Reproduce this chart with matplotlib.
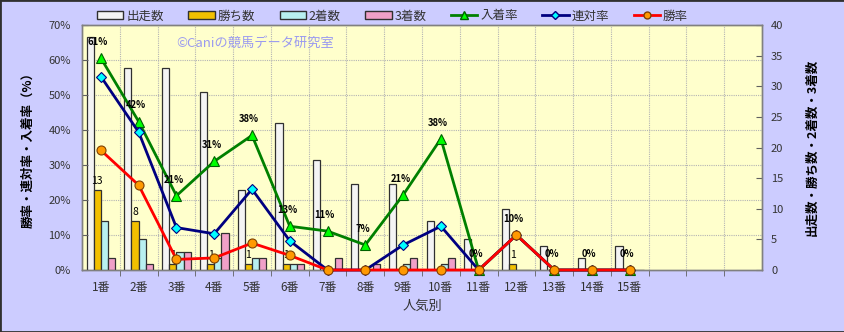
import numpy as np
import matplotlib
matplotlib.use("Agg")
import matplotlib.pyplot as plt
from matplotlib.patches import Patch, Rectangle
from matplotlib.lines import Line2D

plt.rcParams['font.family'] = ['Noto Sans CJK JP', 'DejaVu Sans']

# ---- data ----
categories = ['1番', '2番', '3番', '4番', '5番', '6番', '7番', '8番', '9番',
              '10番', '11番', '12番', '13番', '14番', '15番', '', '', '']
starts = [38, 33, 33, 29, 13, 24, 18, 14, 14, 8, 5, 10, 4, 2, 4]
wins = [13, 8, 1, 1, 1, 1, 0, 0, 0, 0, 0, 1, 0, 0, 0]
seconds = [8, 5, 3, 2, 2, 1, 0, 0, 1, 1, 0, 0, 0, 0, 0]
thirds = [2, 1, 3, 6, 2, 1, 2, 1, 2, 2, 0, 0, 0, 0, 0]

starts_a = np.array(starts, dtype=float)
win_rate = np.array(wins) / starts_a * 100
rentai_rate = (np.array(wins) + np.array(seconds)) / starts_a * 100
place_rate = (np.array(wins) + np.array(seconds) + np.array(thirds)) / starts_a * 100

TXT = '#333333'
fig = plt.figure(figsize=(8.45, 3.32), dpi=100, facecolor='#CCCCFF')
ax = fig.add_axes([82 / 845, 1 - 270 / 332, 680 / 845, 245 / 332])  # counts (bars)
ax.set_facecolor('#FFFFCC')
ax2 = ax.twinx()  # rates (lines), drawn above the bars

x_all = np.arange(len(categories))
x = np.arange(len(starts))
w = 0.19

# bars
bar_specs = [(starts, '#F4F4F4', '#303030', -1.5),
             (wins, '#F2C000', '#303030', -0.5),
             (seconds, '#B8F0F0', '#303030', 0.5),
             (thirds, '#F0A0C8', '#303030', 1.5)]
for vals, fc, ec, k in bar_specs:
    ax.bar(x + k * w, vals, width=w, color=fc, edgecolor=ec, linewidth=0.9, zorder=3)

for i, v in enumerate(wins):
    if v > 0:
        ax.annotate(str(v), (x[i] - 0.5 * w, v), xytext=(0, 3), textcoords='offset points',
                    ha='center', va='bottom', fontsize=7.5, color='black', zorder=4)

ax.set_xlim(-0.5, len(categories) - 0.5)
ax.set_ylim(0, 40)
ax2.set_ylim(0, 70)

# lines
mark_place = [i for i in range(len(starts)) if i != 11]
ax2.plot(x, place_rate, color='#008000', lw=2, marker='^', ms=7.5,
         mfc='#00FF00', mec='#006000', mew=0.8, markevery=mark_place, clip_on=False, zorder=5)
ax2.plot(x, rentai_rate, color='#000080', lw=2, marker='D', ms=5,
         mfc='#00FFFF', mec='#000080', mew=0.8, clip_on=False, zorder=6)
ax2.plot(x, win_rate, color='#FF0000', lw=2, marker='o', ms=6.5,
         mfc='#FF9900', mec='#804000', mew=0.8, clip_on=False, zorder=7)

for i, v in enumerate(place_rate):
    ax2.annotate(f'{int(v + 0.5)}%', (x[i], v), xytext=(-2, 8), textcoords='offset points',
                 ha='center', va='bottom', fontsize=6.8, fontweight='bold', color='black', zorder=8)

# axes placement: counts on right, rates on left
ax.yaxis.tick_right()
ax.yaxis.set_label_position('right')
ax2.yaxis.tick_left()
ax2.yaxis.set_label_position('left')

ax.set_yticks(np.arange(0, 41, 5))
ax.set_yticks([40 * k / 7 for k in range(1, 7)], minor=True)
ax.set_xticks(x_all)
ax.set_xticklabels(categories)
ax.set_xticks(np.arange(0.5, len(categories) - 1, 1), minor=True)
ax.grid(which='minor', color='#B4B4B4', linestyle=(0, (1, 1)), linewidth=0.8, zorder=0)
ax.set_axisbelow(True)

ax.tick_params(axis='x', which='major', length=0, pad=8, labelsize=8.5, labelcolor=TXT)
ax.tick_params(axis='x', which='minor', length=4, direction='out', color='#606060')
ax.tick_params(axis='y', which='major', direction='in', length=4, pad=6.5, labelsize=8, labelcolor=TXT, color='#606060')
ax.tick_params(axis='y', which='minor', length=0)

ax2.set_yticks(np.arange(0, 71, 10))
ax2.set_yticklabels([f'{t}%' for t in range(0, 71, 10)])
ax2.tick_params(axis='y', direction='in', length=4, pad=8, labelsize=8, labelcolor=TXT, color='#606060')

for a in (ax, ax2):
    for s in a.spines.values():
        s.set_color('#808080')
        s.set_linewidth(1)

ax2.set_ylabel('勝率・連対率・入着率（%）', fontsize=9, fontweight='bold', color='black', labelpad=10)
ax.set_ylabel('出走数・勝ち数・2着数・3着数', fontsize=9, fontweight='bold', color='black', labelpad=16)
ax.set_xlabel('人気別', fontsize=9.5, color=TXT, labelpad=4)

ax.text(0.138, 0.927, '©Caniの競馬データ研究室', transform=ax.transAxes, fontsize=9.5,
        color='#9A9AF0', ha='left', va='center', zorder=2)

# legend
handles = [Patch(facecolor='#F4F4F4', edgecolor='#303030', lw=1),
           Patch(facecolor='#F2C000', edgecolor='#303030', lw=1),
           Patch(facecolor='#B8F0F0', edgecolor='#303030', lw=1),
           Patch(facecolor='#F0A0C8', edgecolor='#303030', lw=1),
           Line2D([], [], color='#008000', lw=2, marker='^', ms=6, mfc='#00FF00', mec='#006000'),
           Line2D([], [], color='#000080', lw=2, marker='D', ms=4, mfc='#00FFFF', mec='#000080'),
           Line2D([], [], color='#FF0000', lw=2, marker='o', ms=5, mfc='#FF9900', mec='#804000')]
labels = ['出走数', '勝ち数', '2着数', '3着数', '入着率', '連対率', '勝率']
leg = fig.legend(handles, labels, loc='center left', bbox_to_anchor=(97 / 845, 1 - 16 / 332),
                 ncol=7, frameon=False, fontsize=9, handlelength=2.1, handleheight=0.6,
                 handletextpad=0.25, columnspacing=1.95, borderpad=0, borderaxespad=0)
for t in leg.get_texts():
    t.set_color(TXT)

fig.patches.append(Rectangle((0, 0), 1, 1, transform=fig.transFigure, fill=False,
                             edgecolor='#303030', linewidth=2))

fig.savefig('out.png', dpi=100, facecolor=fig.get_facecolor())
